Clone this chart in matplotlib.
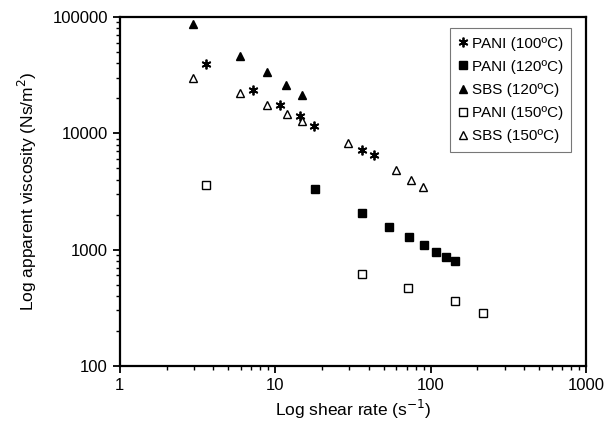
import matplotlib
matplotlib.use("Agg")
import matplotlib.pyplot as plt

plt.rcParams['font.family'] = ['Liberation Sans', 'DejaVu Sans']

# data (shear rate in 1/s, viscosity in Ns/m2)
pani100_x = [3.58, 7.18, 10.7, 14.4, 17.8, 36.2, 43.2]
pani100_y = [39500, 23600, 17500, 14100, 11600, 7200, 6520]

pani120_x = [18.0, 36.2, 54.0, 72.6, 90.7, 108, 126, 144]
pani120_y = [3330, 2070, 1570, 1290, 1100, 956, 866, 800]

sbs120_x = [2.95, 5.93, 8.84, 11.7, 14.9]
sbs120_y = [87300, 46300, 33700, 26100, 21400]

pani150_x = [3.58, 36.2, 71.6, 144, 217]
pani150_y = [3600, 618, 469, 362, 286]

sbs150_x = [2.95, 5.93, 8.84, 11.9, 14.9, 29.4, 59.9, 74.8, 89.3]
sbs150_y = [29900, 22200, 17500, 14700, 12800, 8270, 4850, 3970, 3460]

fig = plt.figure(figsize=(6.08, 4.28), dpi=100)
ax = fig.add_axes([0.197, 0.145, 0.767, 0.815])

ms = 6
ax.plot(pani100_x, pani100_y, linestyle='none', marker=(6, 2, 0), ms=7,
        mec='black', mew=1.3, label='PANI (100ºC)')
ax.plot(pani120_x, pani120_y, linestyle='none', marker='s', ms=ms,
        mfc='black', mec='black', label='PANI (120ºC)')
ax.plot(sbs120_x, sbs120_y, linestyle='none', marker='^', ms=ms,
        mfc='black', mec='black', label='SBS (120ºC)')
ax.plot(pani150_x, pani150_y, linestyle='none', marker='s', ms=ms,
        mfc='white', mec='black', mew=1.0, label='PANI (150ºC)')
ax.plot(sbs150_x, sbs150_y, linestyle='none', marker='^', ms=ms,
        mfc='white', mec='black', mew=1.0, label='SBS (150ºC)')

ax.set_xscale('log')
ax.set_yscale('log')
ax.set_xlim(1, 1000)
ax.set_ylim(100, 100000)

ax.set_xticks([1, 10, 100, 1000])
ax.set_xticklabels(['1', '10', '100', '1000'])
ax.set_yticks([100, 1000, 10000, 100000])
ax.set_yticklabels(['100', '1000', '10000', '100000'])

for s in ax.spines.values():
    s.set_linewidth(1.6)
ax.tick_params(which='major', direction='out', length=5, width=1.3, labelsize=12)
ax.tick_params(which='minor', direction='out', length=3, width=1.0)
ax.tick_params(top=False, right=False, which='both')

ax.set_xlabel('Log shear rate (s$^{-1}$)', fontsize=12.5, labelpad=4)
ax.set_ylabel('Log apparent viscosity (Ns/m$^{2}$)', fontsize=12.5, labelpad=10)

leg = ax.legend(loc='upper right', bbox_to_anchor=(0.985, 0.99), fontsize=11,
                frameon=True, fancybox=False, edgecolor='#555555',
                handlelength=0.6, handletextpad=0.3, labelspacing=0.6,
                borderpad=0.55, markerscale=1.0)
leg.get_frame().set_linewidth(0.8)

fig.savefig('out.png', dpi=100)
